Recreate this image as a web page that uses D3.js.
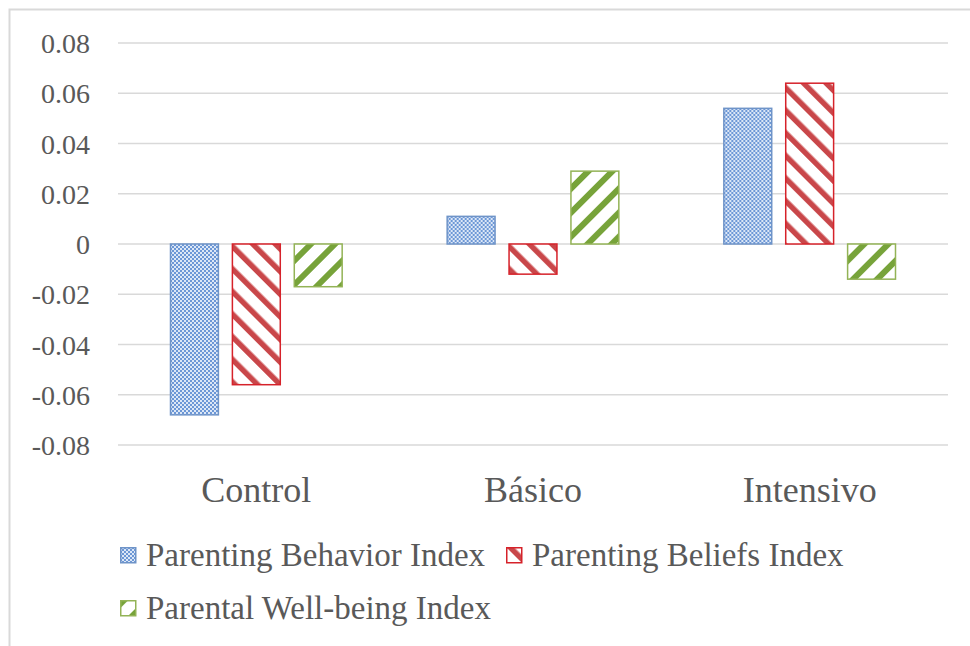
<!DOCTYPE html>
<html>
<head>
<meta charset="utf-8">
<script src="https://cdn.jsdelivr.net/npm/d3@7"></script>
<style>
body{margin:0;background:#fff;}
svg text{font-family:"Liberation Serif","DejaVu Serif","Times New Roman",serif !important;}
</style>
</head>
<body>
<svg id="chart"></svg>
<script>
var categories = ["Control", "Básico", "Intensivo"];
var seriesNames = ["Parenting Behavior Index", "Parenting Beliefs Index", "Parental Well-being Index"];
var behavior = [-0.068, 0.011, 0.054];
var beliefs = [-0.056, -0.012, 0.064];
var wellbeing = [-0.017, 0.029, -0.014];
var yTicks = [0.08, 0.06, 0.04, 0.02, 0, -0.02, -0.04, -0.06, -0.08];

var width = 970, height = 646;
var svg = d3.select("#chart").attr("width", width).attr("height", height);

// outer frame, cut off at right and bottom like the source
svg.append("rect")
    .attr("x", 9.5).attr("y", 9.5)
    .attr("width", 1000).attr("height", 700)
    .attr("fill", "none").attr("stroke", "#d9d9d9").attr("stroke-width", 2);

var defs = svg.append("defs");

// blue fine checker
var pb = defs.append("pattern").attr("id", "pBlue")
    .attr("patternUnits", "userSpaceOnUse").attr("width", 4).attr("height", 4);
pb.append("rect").attr("width", 4).attr("height", 4).attr("fill", "#dce7f6");
pb.append("rect").attr("width", 2).attr("height", 2).attr("fill", "#6c97d6");
pb.append("rect").attr("x", 2).attr("y", 2).attr("width", 2).attr("height", 2).attr("fill", "#6c97d6");

// red wide downward diagonal
var pr = defs.append("pattern").attr("id", "pRed")
    .attr("patternUnits", "userSpaceOnUse").attr("width", 16).attr("height", 16)
    .attr("patternTransform", "rotate(-45)");
pr.append("rect").attr("width", 16).attr("height", 16).attr("fill", "#fff");
pr.append("rect").attr("width", 5.5).attr("height", 16).attr("fill", "#c9474a");

// green wide upward diagonal
var pg = defs.append("pattern").attr("id", "pGreen")
    .attr("patternUnits", "userSpaceOnUse").attr("width", 17).attr("height", 17)
    .attr("patternTransform", "rotate(45)");
pg.append("rect").attr("width", 17).attr("height", 17).attr("fill", "#fff");
pg.append("rect").attr("width", 6).attr("height", 17).attr("fill", "#77a33a");

var fills = ["url(#pBlue)", "url(#pRed)", "url(#pGreen)"];
var strokes = ["#6f94c8", "#d6222a", "#93b356"];
var values = [behavior, beliefs, wellbeing];

var plotLeft = 118, plotRight = 948, plotTop = 43, plotBottom = 445;

var y = d3.scaleLinear().domain([-0.08, 0.08]).range([plotBottom, plotTop]);
var x0 = d3.scaleBand().domain(categories).range([plotLeft, plotRight]).padding(0);
var x1 = d3.scaleBand().domain(d3.range(3))
    .range([52, x0.bandwidth() - 52]).paddingInner(0.21).paddingOuter(0);

// gridlines
svg.append("g").selectAll("line").data(yTicks).enter().append("line")
    .attr("x1", plotLeft).attr("x2", plotRight)
    .attr("y1", function(d){return y(d);}).attr("y2", function(d){return y(d);})
    .attr("stroke", "#d9d9d9").attr("stroke-width", 1.5);

// y axis labels
var yAxis = d3.axisLeft(y).tickValues(yTicks).tickSize(0).tickPadding(0)
    .tickFormat(function(d){return d === 0 ? "0" : d.toFixed(2);});
var ya = svg.append("g").attr("transform", "translate(90,0)").call(yAxis)
    .attr("font-size", 28);
ya.select(".domain").remove();
ya.selectAll("text").attr("fill", "#595959").attr("dy", "0.34em");

// bars
var groups = svg.append("g").selectAll("g").data(categories).enter().append("g")
    .attr("transform", function(d){return "translate(" + x0(d) + ",0)";});
groups.selectAll("rect").data(function(d, i){
        return values.map(function(v, s){return {s: s, v: v[i]};});
    }).enter().append("rect")
    .attr("x", function(d){return x1(d.s) + 0.5;})
    .attr("width", x1.bandwidth() - 1)
    .attr("y", function(d){return y(Math.max(0, d.v));})
    .attr("height", function(d){return Math.abs(y(d.v) - y(0));})
    .attr("fill", function(d){return fills[d.s];})
    .attr("stroke", function(d){return strokes[d.s];})
    .attr("stroke-width", 1.5);

// category labels
var xAxis = d3.axisBottom(x0).tickSize(0).tickPadding(0);
var xa = svg.append("g").attr("transform", "translate(0,476)").call(xAxis)
    .attr("font-size", 36);
xa.select(".domain").remove();
xa.selectAll("text").attr("fill", "#595959").attr("dy", "0.71em");

// legend
var legendPos = [[120, 547], [506, 547], [120, 600]];
var lg = svg.append("g")
    .selectAll("g").data(seriesNames).enter().append("g")
    .attr("transform", function(d, i){return "translate(" + legendPos[i][0] + "," + legendPos[i][1] + ")";});
lg.append("rect").attr("x", 0.75).attr("y", 0.75).attr("width", 15).attr("height", 15)
    .attr("fill", function(d, i){return fills[i];})
    .attr("stroke", function(d, i){return strokes[i];}).attr("stroke-width", 1.5);
lg.append("text").attr("x", 26).attr("y", 19).attr("font-size", 33).attr("fill", "#595959")
    .text(function(d){return d;});
</script>
</body>
</html>
